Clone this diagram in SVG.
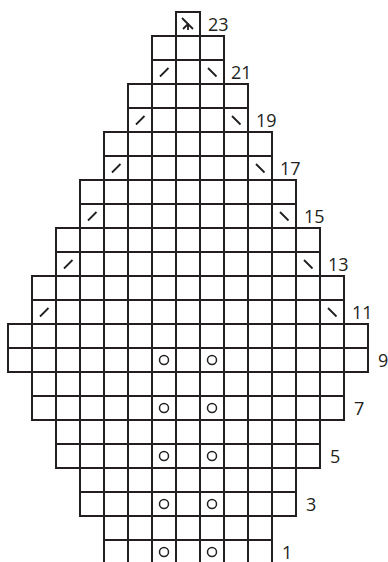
<svg xmlns="http://www.w3.org/2000/svg" width="388" height="562" viewBox="0 0 388 562">
<style>
.g{fill:none;stroke:#231f20;stroke-width:2}
.s{fill:none;stroke:#231f20;stroke-width:1.8;stroke-linecap:butt}
.o{fill:none;stroke:#231f20;stroke-width:1.5}
.t{font-family:"Open Sans","Liberation Sans",sans-serif;font-size:18px;fill:#231f20}
</style>
<rect width="388" height="562" fill="#fff"/>
<g id="grid">
<g id="row23"><rect class="g" x="176" y="12" width="24" height="24"/></g>
<g id="row22"><rect class="g" x="152" y="36" width="72" height="24"/><path class="g" d="M176 36v24M200 36v24"/></g>
<g id="row21"><rect class="g" x="152" y="60" width="72" height="24"/><path class="g" d="M176 60v24M200 60v24"/></g>
<g id="row20"><rect class="g" x="128" y="84" width="120" height="24"/><path class="g" d="M152 84v24M176 84v24M200 84v24M224 84v24"/></g>
<g id="row19"><rect class="g" x="128" y="108" width="120" height="24"/><path class="g" d="M152 108v24M176 108v24M200 108v24M224 108v24"/></g>
<g id="row18"><rect class="g" x="104" y="132" width="168" height="24"/><path class="g" d="M128 132v24M152 132v24M176 132v24M200 132v24M224 132v24M248 132v24"/></g>
<g id="row17"><rect class="g" x="104" y="156" width="168" height="24"/><path class="g" d="M128 156v24M152 156v24M176 156v24M200 156v24M224 156v24M248 156v24"/></g>
<g id="row16"><rect class="g" x="80" y="180" width="216" height="24"/><path class="g" d="M104 180v24M128 180v24M152 180v24M176 180v24M200 180v24M224 180v24M248 180v24M272 180v24"/></g>
<g id="row15"><rect class="g" x="80" y="204" width="216" height="24"/><path class="g" d="M104 204v24M128 204v24M152 204v24M176 204v24M200 204v24M224 204v24M248 204v24M272 204v24"/></g>
<g id="row14"><rect class="g" x="56" y="228" width="264" height="24"/><path class="g" d="M80 228v24M104 228v24M128 228v24M152 228v24M176 228v24M200 228v24M224 228v24M248 228v24M272 228v24M296 228v24"/></g>
<g id="row13"><rect class="g" x="56" y="252" width="264" height="24"/><path class="g" d="M80 252v24M104 252v24M128 252v24M152 252v24M176 252v24M200 252v24M224 252v24M248 252v24M272 252v24M296 252v24"/></g>
<g id="row12"><rect class="g" x="32" y="276" width="312" height="24"/><path class="g" d="M56 276v24M80 276v24M104 276v24M128 276v24M152 276v24M176 276v24M200 276v24M224 276v24M248 276v24M272 276v24M296 276v24M320 276v24"/></g>
<g id="row11"><rect class="g" x="32" y="300" width="312" height="24"/><path class="g" d="M56 300v24M80 300v24M104 300v24M128 300v24M152 300v24M176 300v24M200 300v24M224 300v24M248 300v24M272 300v24M296 300v24M320 300v24"/></g>
<g id="row10"><rect class="g" x="8" y="324" width="360" height="24"/><path class="g" d="M32 324v24M56 324v24M80 324v24M104 324v24M128 324v24M152 324v24M176 324v24M200 324v24M224 324v24M248 324v24M272 324v24M296 324v24M320 324v24M344 324v24"/></g>
<g id="row9"><rect class="g" x="8" y="348" width="360" height="24"/><path class="g" d="M32 348v24M56 348v24M80 348v24M104 348v24M128 348v24M152 348v24M176 348v24M200 348v24M224 348v24M248 348v24M272 348v24M296 348v24M320 348v24M344 348v24"/></g>
<g id="row8"><rect class="g" x="32" y="372" width="312" height="24"/><path class="g" d="M56 372v24M80 372v24M104 372v24M128 372v24M152 372v24M176 372v24M200 372v24M224 372v24M248 372v24M272 372v24M296 372v24M320 372v24"/></g>
<g id="row7"><rect class="g" x="32" y="396" width="312" height="24"/><path class="g" d="M56 396v24M80 396v24M104 396v24M128 396v24M152 396v24M176 396v24M200 396v24M224 396v24M248 396v24M272 396v24M296 396v24M320 396v24"/></g>
<g id="row6"><rect class="g" x="56" y="420" width="264" height="24"/><path class="g" d="M80 420v24M104 420v24M128 420v24M152 420v24M176 420v24M200 420v24M224 420v24M248 420v24M272 420v24M296 420v24"/></g>
<g id="row5"><rect class="g" x="56" y="444" width="264" height="24"/><path class="g" d="M80 444v24M104 444v24M128 444v24M152 444v24M176 444v24M200 444v24M224 444v24M248 444v24M272 444v24M296 444v24"/></g>
<g id="row4"><rect class="g" x="80" y="468" width="216" height="24"/><path class="g" d="M104 468v24M128 468v24M152 468v24M176 468v24M200 468v24M224 468v24M248 468v24M272 468v24"/></g>
<g id="row3"><rect class="g" x="80" y="492" width="216" height="24"/><path class="g" d="M104 492v24M128 492v24M152 492v24M176 492v24M200 492v24M224 492v24M248 492v24M272 492v24"/></g>
<g id="row2"><rect class="g" x="104" y="516" width="168" height="24"/><path class="g" d="M128 516v24M152 516v24M176 516v24M200 516v24M224 516v24M248 516v24"/></g>
<g id="row1"><rect class="g" x="104" y="540" width="168" height="24"/><path class="g" d="M128 540v24M152 540v24M176 540v24M200 540v24M224 540v24M248 540v24"/></g>
</g>
<g id="symbols">
<path class="s" d="M182 18L193 29M188 24L183 29M188 23V30"/>
<path class="s" d="M160 76.5l8.5-8.5M208 68l8.5 8.5"/>
<path class="s" d="M136 124.5l8.5-8.5M232 116l8.5 8.5"/>
<path class="s" d="M112 172.5l8.5-8.5M256 164l8.5 8.5"/>
<path class="s" d="M88 220.5l8.5-8.5M280 212l8.5 8.5"/>
<path class="s" d="M64 268.5l8.5-8.5M304 260l8.5 8.5"/>
<path class="s" d="M40 316.5l8.5-8.5M328 308l8.5 8.5"/>
<circle class="o" cx="164" cy="360" r="4.5"/><circle class="o" cx="212" cy="360" r="4.5"/>
<circle class="o" cx="164" cy="408" r="4.5"/><circle class="o" cx="212" cy="408" r="4.5"/>
<circle class="o" cx="164" cy="456" r="4.5"/><circle class="o" cx="212" cy="456" r="4.5"/>
<circle class="o" cx="164" cy="504" r="4.5"/><circle class="o" cx="212" cy="504" r="4.5"/>
<circle class="o" cx="164" cy="552" r="4.5"/><circle class="o" cx="212" cy="552" r="4.5"/>
</g>
<g id="labels">
<text class="t" x="208" y="30.5">23</text>
<text class="t" x="231" y="78.5">21</text>
<text class="t" x="256" y="126.5">19</text>
<text class="t" x="280" y="174.5">17</text>
<text class="t" x="304" y="222.5">15</text>
<text class="t" x="328" y="270.5">13</text>
<text class="t" x="352" y="318.5">11</text>
<text class="t" x="378" y="366.5">9</text>
<text class="t" x="354" y="414.5">7</text>
<text class="t" x="330" y="462.5">5</text>
<text class="t" x="306" y="510.5">3</text>
<text class="t" x="282" y="558.5">1</text>
</g>
</svg>
